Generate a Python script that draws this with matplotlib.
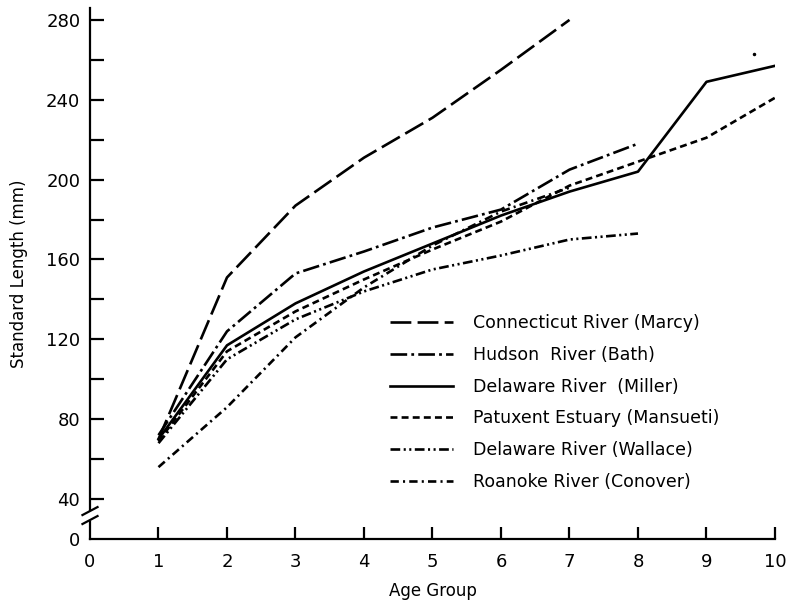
import numpy as np
import matplotlib.pyplot as plt

plt.rcParams['font.family'] = ['DejaVu Sans']
plt.rcParams['lines.scale_dashes'] = False

# Datos (longitud estándar en mm por grupo de edad)
ages_marcy = [1, 2, 3, 4, 5, 6, 7]
len_marcy = [70, 151, 187, 211, 231, 255, 280]

ages_bath = [1, 2, 3, 4, 5, 6, 7, 8]
len_bath = [72, 124, 153, 164, 176, 185, 205, 218]

ages_miller = [1, 2, 3, 4, 5, 6, 7, 8, 9, 10]
len_miller = [70, 117, 138, 154, 168, 182, 194, 204, 249, 257]

ages_mansueti = [1, 2, 3, 4, 5, 6, 7, 8, 9, 10]
len_mansueti = [69, 114, 134, 150, 165, 179, 197, 209, 221, 241]

ages_wallace = [1, 2, 3, 4, 5, 6, 7, 8]
len_wallace = [68, 110, 130, 144, 155, 162, 170, 173]

ages_conover = [1, 2, 3, 4, 5, 6, 7]
len_conover = [56, 86, 121, 146, 167, 184, 196]

stray_x = [9.7]
stray_y = [263]

y_ticks = [20, 40, 80, 120, 160, 200, 240, 280]
y_labels = ['0', '40', '80', '120', '160', '200', '240', '280']
x_ticks = [0, 1, 2, 3, 4, 5, 6, 7, 8, 9, 10]

lw = 1.9
fig = plt.figure(figsize=(7.86, 6.10), dpi=100)
ax = fig.add_axes([0.1145, 0.1164, 0.8715, 0.8706])

ax.plot(ages_marcy, len_marcy, 'k', lw=lw, linestyle=(0, (15, 4.5)),
        label="Connecticut River (Marcy)")
ax.plot(ages_bath, len_bath, 'k', lw=lw, linestyle=(0, (12, 3, 2, 3)),
        label="Hudson  River (Bath)")
ax.plot(ages_miller, len_miller, 'k', lw=lw, linestyle='-',
        label="Delaware River  (Miller)")
ax.plot(ages_mansueti, len_mansueti, 'k', lw=lw, linestyle=(0, (5, 3)),
        label="Patuxent Estuary (Mansueti)")
ax.plot(ages_wallace, len_wallace, 'k', lw=lw, linestyle=(0, (7, 2.5, 1.5, 2.5, 1.5, 2.5)),
        label="Delaware River (Wallace)")
ax.plot(ages_conover, len_conover, 'k', lw=lw, linestyle=(0, (6, 3, 1.5, 3)),
        label="Roanoke River (Conover)")
ax.plot(stray_x, stray_y, 'k.', ms=3)

ax.set_xlim(0, 10)
ax.set_ylim(20, 286)

ax.spines['top'].set_visible(False)
ax.spines['right'].set_visible(False)
ax.spines['left'].set_visible(False)
ax.spines['bottom'].set_linewidth(1.6)

# eje y partido
tr = ax.get_yaxis_transform()
ax.plot([0, 0], [34.5, 286], 'k', lw=1.6, transform=tr, clip_on=False)
ax.plot([0, 0], [20, 28.5], 'k', lw=1.6, transform=tr, clip_on=False)
for yb in [34, 29.5]:
    ax.plot([-0.011, 0.011], [yb - 2, yb + 2], 'k', lw=1.6, transform=tr, clip_on=False)

ax.set_yticks(y_ticks)
ax.set_yticklabels(y_labels)
ax.set_yticks(np.arange(60, 281, 40), minor=True)
ax.set_xticks(x_ticks)
ax.tick_params(axis='y', which='both', direction='in', length=10, width=1.6,
               labelsize=13, pad=7)
ax.tick_params(axis='x', direction='in', length=9, width=1.6,
               labelsize=13, pad=10)
ax.get_yticklines()[0].set_visible(False)
ax.get_xticklines()[0].set_visible(False)

ax.set_xlabel("Age Group", fontsize=12, labelpad=8)
ax.set_ylabel("Standard Length (mm)", fontsize=12, labelpad=13)

ax.legend(loc='upper left', bbox_to_anchor=(0.438, 0.424), frameon=False,
          fontsize=12.5, handlelength=3.6, handletextpad=1.2, labelspacing=0.8,
          borderaxespad=0, borderpad=0)

plt.savefig("out.png", dpi=100)
